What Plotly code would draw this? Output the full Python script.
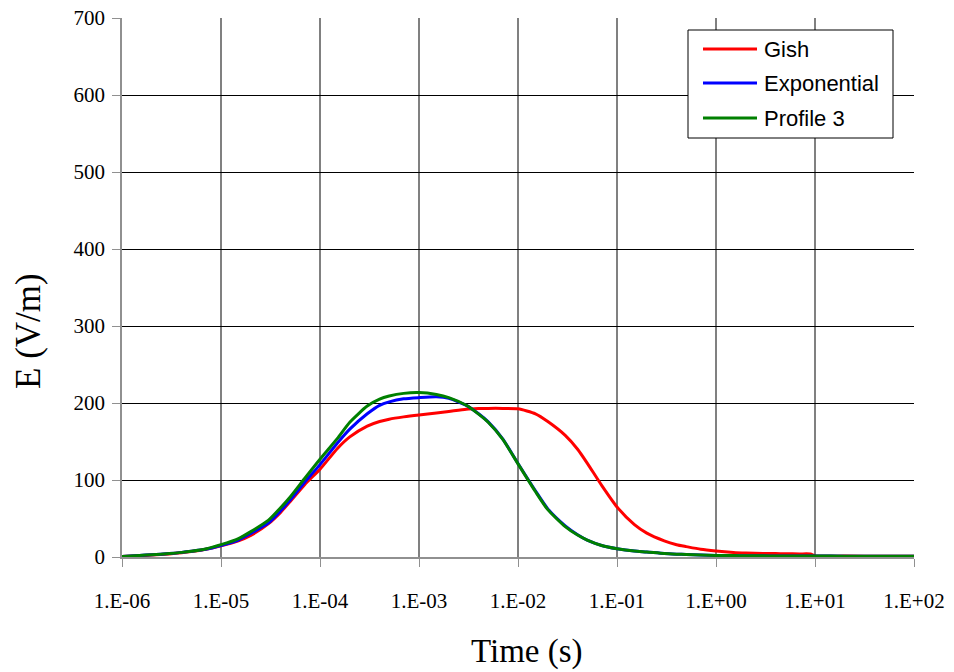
import plotly.graph_objects as go

# Sample times (s): denser sampling per decade
time_s = [
    1e-6, 1.5e-6, 2e-6, 3e-6, 4e-6, 5e-6, 7e-6,
    1e-5, 1.5e-5, 2e-5, 3e-5, 4e-5, 5e-5, 7e-5,
    1e-4, 1.5e-4, 2e-4, 3e-4, 4e-4, 5e-4, 7e-4,
    1e-3, 1.5e-3, 2e-3, 3e-3, 4e-3, 5e-3, 7e-3,
    1e-2, 1.5e-2, 2e-2, 3e-2, 4e-2, 5e-2, 7e-2,
    1e-1, 1.5e-1, 2e-1, 3e-1, 4e-1, 5e-1, 7e-1,
    1.0, 1.5, 2.0, 3.0, 4.0, 5.0, 7.0, 9.0,
    10.0, 20.0, 50.0,
    100.0,
]

# Electric field E (V/m) for each profile
gish = [
    0.5, 1.5, 2.5, 4, 5.5, 7, 10,
    14.5, 21, 28, 43, 58, 72, 94,
    114, 141, 156, 170, 176, 179, 182,
    184.5, 187, 189, 192, 192.8, 193, 193,
    192.5, 186, 176, 158, 140, 122, 93,
    65, 42, 31, 21, 16, 13.5, 10,
    7.8, 6, 5.3, 4.7, 4.4, 4.2, 4, 3.9,
    1.5, 1.2, 1,
    1,
]
exponential = [
    0.5, 2, 3, 4.5, 6, 7.5, 10,
    15, 22, 30.5, 44, 60, 74, 97,
    120, 148, 166, 186, 197, 201.5, 205.5,
    207, 208, 206, 197, 186, 175.5, 153.5,
    121.5, 86, 62.5, 40.5, 29, 22, 15,
    10.8, 7.7, 6.5, 4.5, 3.7, 3.2, 2.5,
    2, 1.8, 1.7, 1.5, 1.4, 1.3, 1.2, 1.2,
    1.2, 1.1, 1,
    1,
]
profile3 = [
    0.5, 2, 3, 4.5, 6, 7.5, 10.5,
    16, 24, 33, 47.5, 64, 78, 102,
    127, 154, 175, 196, 205, 209, 212.5,
    213.5, 211, 207, 197, 185.5, 175, 153,
    121, 85, 61.5, 39.5, 28.5, 22, 15,
    10.8, 7.7, 6.5, 4.5, 3.7, 3.2, 2.5,
    2, 1.8, 1.7, 1.5, 1.4, 1.3, 1.2, 1.2,
    1.2, 1.1, 1,
    1,
]

series_names = ["Gish", "Exponential", "Profile 3"]
series_colors = ["#FF0000", "#0000FF", "#008000"]
series_values = [gish, exponential, profile3]

x_tick_vals = [1e-6, 1e-5, 1e-4, 1e-3, 1e-2, 1e-1, 1e0, 1e1, 1e2]
x_tick_text = ["1.E-06", "1.E-05", "1.E-04", "1.E-03", "1.E-02",
               "1.E-01", "1.E+00", "1.E+01", "1.E+02"]
y_tick_vals = [0, 100, 200, 300, 400, 500, 600, 700]

W, H = 954, 672
L, R, T, B = 122, 40, 18, 115
plot_w = W - L - R
plot_h = H - T - B


def px(xpix):
    return (xpix - L) / plot_w


def py(ypix):
    return (H - B - ypix) / plot_h


fig = go.Figure()
for name, color, vals in zip(series_names, series_colors, series_values):
    fig.add_trace(go.Scatter(
        x=time_s, y=vals, name=name, mode="lines",
        line=dict(color=color, width=3, shape="spline", smoothing=0.6),
        showlegend=False,
    ))

serif = "Liberation Serif, Times New Roman, serif"
sans = "Liberation Sans, Arial, sans-serif"

fig.update_layout(
    width=W, height=H,
    margin=dict(l=L, r=R, t=T, b=B, pad=0, autoexpand=False),
    paper_bgcolor="white", plot_bgcolor="white",
    xaxis=dict(
        type="log", range=[-6, 2], automargin=False,
        tickvals=x_tick_vals, ticktext=x_tick_text,
        showgrid=True, gridcolor="#808080", gridwidth=1.5,
        showline=True, linecolor="#909090", linewidth=1.5,
        ticks="outside", ticklen=8, tickcolor="#909090",
        ticklabelstandoff=16,
        tickfont=dict(family=serif, size=21, color="black"),
        zeroline=False,
    ),
    yaxis=dict(
        range=[0, 700], tickvals=y_tick_vals, automargin=False,
        showgrid=True, gridcolor="black", gridwidth=1,
        showline=True, linecolor="#909090", linewidth=1.5,
        ticks="outside", ticklen=8, tickcolor="#909090",
        ticklabelstandoff=3,
        tickfont=dict(family=serif, size=21, color="black"),
        zeroline=False,
    ),
)

# Axis titles
fig.add_annotation(
    text="Time (s)", xref="paper", yref="paper",
    x=px(527), y=py(651), xanchor="center", yanchor="middle",
    showarrow=False, font=dict(family=serif, size=33, color="black"),
)
fig.add_annotation(
    text="E (V/m)", xref="paper", yref="paper",
    x=px(28), y=py(331), xanchor="center", yanchor="middle",
    textangle=-90, showarrow=False,
    font=dict(family=serif, size=35, color="black"),
)

# Legend box with line samples
fig.add_shape(
    type="rect", xref="paper", yref="paper",
    x0=px(688), x1=px(893), y0=py(138), y1=py(30),
    line=dict(color="black", width=1), fillcolor="white", layer="above",
)
legend_rows = [49, 83, 118]
for name, color, row in zip(series_names, series_colors, legend_rows):
    fig.add_shape(
        type="line", xref="paper", yref="paper",
        x0=px(703), x1=px(757), y0=py(row), y1=py(row),
        line=dict(color=color, width=3), layer="above",
    )
    fig.add_annotation(
        text=name, xref="paper", yref="paper",
        x=px(762), y=py(row), xanchor="left", yanchor="middle",
        showarrow=False, font=dict(family=sans, size=22, color="black"),
    )

fig.write_html("out.html")
